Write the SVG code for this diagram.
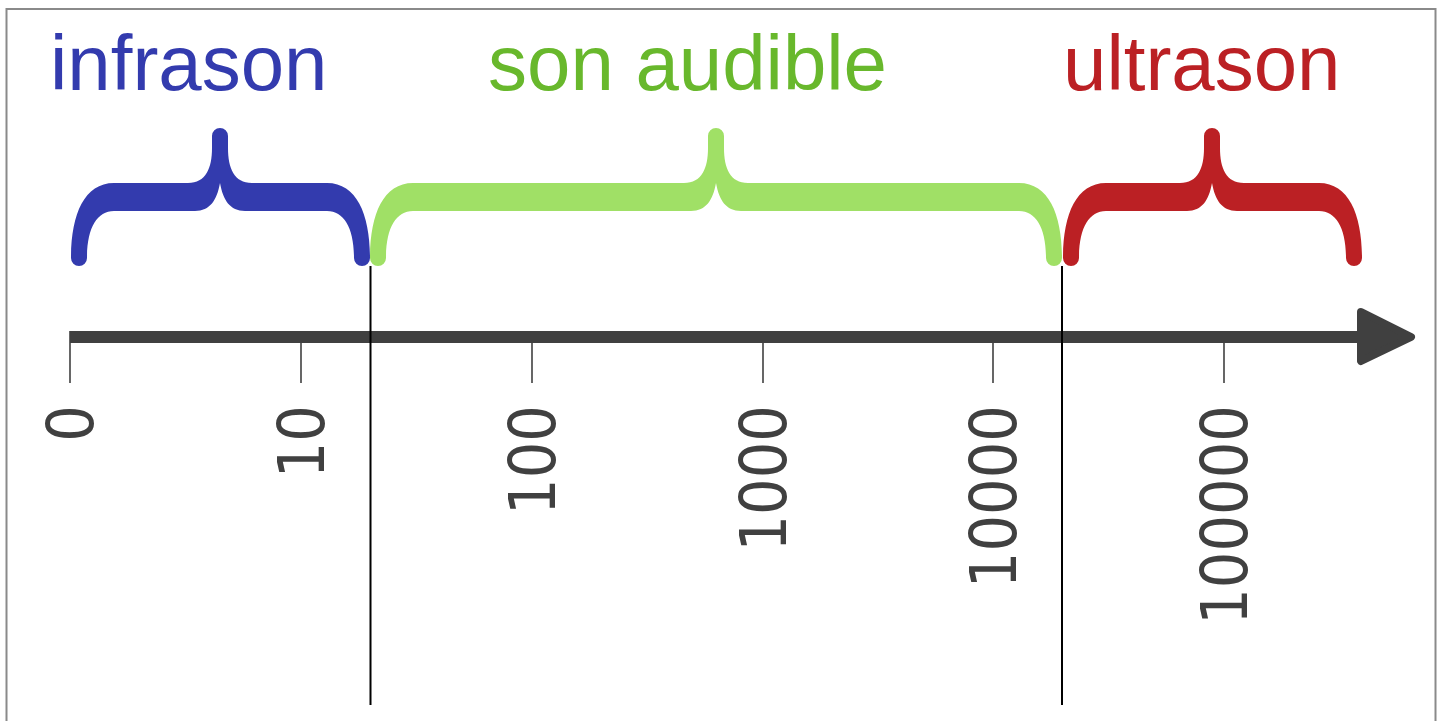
<svg xmlns="http://www.w3.org/2000/svg" width="1442" height="721" viewBox="0 0 1442 721">
<style>
.lbl{font-family:"Liberation Sans",Arial,sans-serif;font-size:78px}
.tick{stroke:#404040;stroke-width:1.6}
.num{font-family:"DejaVu Sans Condensed","DejaVu Sans",sans-serif;font-stretch:condensed;font-size:64px;fill:#404040;text-anchor:end}
.sep{stroke:#000;stroke-width:2}
</style>
<rect width="1442" height="721" fill="#fff"/>
<rect x="6.5" y="9" width="1429" height="730" fill="none" stroke="#8a8a8a" stroke-width="2"/>
<g id="infrason">
<path fill="#333bae" d="M71,258 C71,215 84,183 114,183 L188,183 C206,183 212,168 212,148 L212,136 A8,8 0 0 1 228,136 L228,148 C228,168 234,183 252,183 L327,183 C357,183 370,215 370,258 A8,8 0 0 1 354,258 C354,228 344,211 327,211 L245,211 C230,211 223,200 220,183 C217,200 210,211 195,211 L114,211 C97,211 87,228 87,258 A8,8 0 0 1 71,258 Z"/>
<text class="lbl" x="50" y="90" fill="#333bae">infrason</text>
</g>
<g id="son-audible">
<path fill="#a0e066" d="M370,258 C370,215 383,183 413,183 L684,183 C702,183 708,168 708,148 L708,136 A8,8 0 0 1 724,136 L724,148 C724,168 730,183 748,183 L1019,183 C1049,183 1062,215 1062,258 A8,8 0 0 1 1046,258 C1046,228 1036,211 1019,211 L741,211 C726,211 719,200 716,183 C713,200 706,211 691,211 L413,211 C396,211 386,228 386,258 A8,8 0 0 1 370,258 Z"/>
<text class="lbl" x="488" y="90" fill="#68b82c">son audible</text>
</g>
<g id="ultrason">
<path fill="#bb2024" d="M1063,258 C1063,215 1076,183 1106,183 L1180,183 C1198,183 1204,168 1204,148 L1204,136 A8,8 0 0 1 1220,136 L1220,148 C1220,168 1226,183 1244,183 L1319,183 C1349,183 1362,215 1362,258 A8,8 0 0 1 1346,258 C1346,228 1336,211 1319,211 L1237,211 C1222,211 1215,200 1212,183 C1209,200 1202,211 1187,211 L1106,211 C1089,211 1079,228 1079,258 A8,8 0 0 1 1063,258 Z"/>
<text class="lbl" x="1063" y="90" fill="#bb2024">ultrason</text>
</g>
<g id="axis">
<line x1="70" y1="337" x2="1362" y2="337" stroke="#404040" stroke-width="12"/>
<polygon points="1361,312 1411,337 1361,361" fill="#404040" stroke="#404040" stroke-width="8" stroke-linejoin="round"/>
<line class="tick" x1="70" y1="331" x2="70" y2="383"/>
<line class="tick" x1="301" y1="337" x2="301" y2="383"/>
<line class="tick" x1="532" y1="337" x2="532" y2="383"/>
<line class="tick" x1="763" y1="337" x2="763" y2="383"/>
<line class="tick" x1="993" y1="337" x2="993" y2="383"/>
<line class="tick" x1="1224" y1="337" x2="1224" y2="383"/>
<text class="num" transform="translate(93,405) rotate(-90)">0</text>
<text class="num" transform="translate(324,405) rotate(-90)">10</text>
<text class="num" transform="translate(555,405) rotate(-90)">100</text>
<text class="num" transform="translate(786,405) rotate(-90)">1000</text>
<text class="num" transform="translate(1016,405) rotate(-90)">10000</text>
<text class="num" transform="translate(1247,405) rotate(-90)">100000</text>
</g>
<g id="connectors">
<line class="sep" x1="370.5" y1="266" x2="370.5" y2="705"/>
<line class="sep" x1="1062" y1="266" x2="1062" y2="705"/>
</g>
</svg>
